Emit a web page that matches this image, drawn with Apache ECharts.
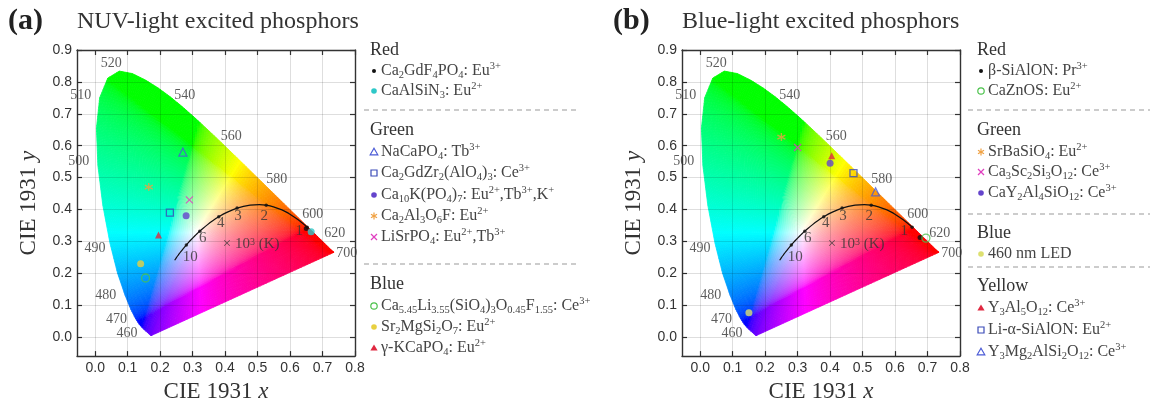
<!DOCTYPE html>
<html><head><meta charset="utf-8">
<script src="https://cdn.jsdelivr.net/npm/echarts@6/dist/echarts.min.js"></script>
<style>html,body{margin:0;padding:0;background:#fff}#c{width:1153px;height:408px}</style>
</head><body><div id="c"></div>
<script>
// ---------- CIE 1931 spectral locus (nm, x, y) ----------
const wl = [380,385,390,395,400,405,410,415,420,425,430,435,440,445,450,455,460,465,470,475,480,485,490,495,500,505,510,515,520,525,530,535,540,545,550,555,560,565,570,575,580,585,590,595,600,605,610,615,620,625,630,635,640,645,650,655,660,665,670,675,680,685,690,695,700];
const locX = [0.1741,0.1740,0.1738,0.1736,0.1733,0.1730,0.1726,0.1721,0.1714,0.1703,0.1689,0.1669,0.1644,0.1611,0.1566,0.1510,0.1440,0.1355,0.1241,0.1096,0.0913,0.0687,0.0454,0.0235,0.0082,0.0039,0.0139,0.0389,0.0743,0.1142,0.1547,0.1929,0.2296,0.2658,0.3016,0.3373,0.3731,0.4087,0.4441,0.4788,0.5125,0.5448,0.5752,0.6029,0.6270,0.6482,0.6658,0.6801,0.6915,0.7006,0.7079,0.7140,0.7190,0.7230,0.7260,0.7283,0.7300,0.7311,0.7320,0.7327,0.7334,0.7340,0.7344,0.7346,0.7347];
const locY = [0.0050,0.0050,0.0049,0.0049,0.0048,0.0048,0.0048,0.0048,0.0051,0.0058,0.0069,0.0086,0.0109,0.0138,0.0177,0.0227,0.0297,0.0399,0.0578,0.0868,0.1327,0.2007,0.2950,0.4127,0.5384,0.6548,0.7502,0.8120,0.8338,0.8262,0.8059,0.7816,0.7543,0.7243,0.6923,0.6589,0.6245,0.5896,0.5547,0.5202,0.4866,0.4544,0.4242,0.3965,0.3725,0.3514,0.3340,0.3197,0.3083,0.2993,0.2920,0.2859,0.2809,0.2770,0.2740,0.2717,0.2700,0.2689,0.2680,0.2673,0.2666,0.2660,0.2656,0.2654,0.2653];
const wlLabels = [460,470,480,490,500,510,520,540,560,580,600,620,700];

// ---------- Planckian locus ----------
const plT = [1000,1200,1400,1500,1600,1800,2000,2200,2500,3000,3500,4000,4500,5000,5500,6000,6500,7000,8000,9000,10000,12000,15000,20000,30000,50000];
const plX = [0.6528,0.6251,0.5985,0.5857,0.5732,0.5492,0.5267,0.5056,0.4770,0.4369,0.4053,0.3805,0.3608,0.3451,0.3325,0.3221,0.3135,0.3064,0.2952,0.2869,0.2807,0.2719,0.2637,0.2565,0.2501,0.2447];
const plY = [0.3444,0.3674,0.3858,0.3931,0.3993,0.4082,0.4133,0.4152,0.4137,0.4041,0.3907,0.3768,0.3636,0.3516,0.3411,0.3318,0.3237,0.3166,0.3048,0.2956,0.2884,0.2776,0.2675,0.2577,0.2489,0.2407];
const plMarkT = [10000,6000,4000,3000,2000,1000];
const plMarkText = ['10','6','4','3','2','1'];
const cctUnitText = '× 10{sp|3} (K)';
const cctUnitPos = [0.48, 0.29];

// ---------- tick labels ----------
const xTicks = [0,0.1,0.2,0.3,0.4,0.5,0.6,0.7,0.8];
const yTicks = [0,0.1,0.2,0.3,0.4,0.5,0.6,0.7,0.8,0.9];

// ---------- panel (a): NUV-light excited phosphors ----------
const namesA = ['Ca_{2}GdF_{4}PO_{4}: Eu^{3+}','CaAlSiN_{3}: Eu^{2+}','NaCaPO_{4}: Tb^{3+}','Ca_{2}GdZr_{2}(AlO_{4})_{3}: Ce^{3+}','Ca_{10}K(PO_{4})_{7}: Eu^{2+},Tb^{3+},K^{+}','Ca_{2}Al_{3}O_{6}F: Eu^{2+}','LiSrPO_{4}: Eu^{2+},Tb^{3+}','Ca_{5.45}Li_{3.55}(SiO_{4})_{3}O_{0.45}F_{1.55}: Ce^{3+}','Sr_{2}MgSi_{2}O_{7}: Eu^{2+}','γ-KCaPO_{4}: Eu^{2+}'];
const groupsA = ['Red','Red','Green','Green','Green','Green','Green','Blue','Blue','Blue'];
const xA = [0.650,0.665,0.270,0.230,0.280,0.165,0.290,0.155,0.140,0.195];
const yA = [0.340,0.330,0.580,0.390,0.380,0.470,0.430,0.185,0.230,0.320];

// ---------- panel (b): Blue-light excited phosphors ----------
const namesB = ['β-SiAlON: Pr^{3+}','CaZnOS: Eu^{2+}','SrBaSiO_{4}: Eu^{2+}','Ca_{3}Sc_{2}Si_{3}O_{12}: Ce^{3+}','CaY_{2}Al_{4}SiO_{12}: Ce^{3+}','460 nm LED','Y_{3}Al_{5}O_{12}: Ce^{3+}','Li-α-SiAlON: Eu^{2+}','Y_{3}Mg_{2}AlSi_{2}O_{12}: Ce^{3+}'];
const groupsB = ['Red','Red','Green','Green','Green','Blue','Yellow','Yellow','Yellow'];
const xB = [0.677,0.695,0.250,0.300,0.400,0.150,0.405,0.472,0.540];
const yB = [0.312,0.310,0.627,0.594,0.545,0.076,0.568,0.514,0.455];

// ---------- styles (kept apart from the data) ----------
const symA = ['dot','circle','openTri','openSq','circle','star','cross','openCircle','circle','tri'];
const colA = ['#111111','#2ec8c8','#4b5bd6','#3b4bb8','#6444cc','#f0a040','#e040c0','#4cc24c','#e8d040','#e02840'];
const symB = ['dot','openCircle','star','cross','circle','circle','tri','openSq','openTri'];
const colB = ['#111111','#4cc24c','#f0a040','#e040c0','#6444cc','#dde070','#e02840','#3b4bb8','#4b5bd6'];
const wlLabelOffset = [[-15,6],[-19,1],[-19,1],[-15,5],[-19,-4],[-19,-2],[-8,-8],[15,-1],[15,-2],[15,-2],[14,-4],[15,-5],[13,1]];
const plLabelOffset = [[4,12],[3,7],[2,6],[1,8],[-2,11],[-8,4]];
const legendYA = [50,71,91,110,130,152,173,195,216,237,264,284,306,327,348];
const legendYB = [50,71,91,110,130,152,172,193,214,233,254,267,286,308,330,352];

const SERIF = '"Liberation Serif","Times New Roman",serif';
const SANS = '"Liberation Sans",Arial,sans-serif';
const TXT = '#333';
const X_MIN = -0.056, X_MAX = 0.8, Y_MIN = -0.06, Y_MAX = 0.9;
const grids = [{left:77, top:50, width:278, height:312}, {left:682, top:50, width:278, height:312}];

// ---------- colour of a chromaticity point ----------
function xyColor(p){
  const x = p[0], y = Math.max(p[1], 1e-4);
  const X = x / y, Z = (1 - x - y) / y;
  let r = 3.2406*X - 1.5372 - 0.4986*Z, g = -0.9689*X + 1.8758 + 0.0415*Z, b = 0.0557*X - 0.2040 + 1.0570*Z;
  r = Math.max(r,0); g = Math.max(g,0); b = Math.max(b,0);
  const m = Math.max(r,g,b) || 1;
  const f = v => { v /= m; v = v <= 0.0031308 ? 12.92*v : 1.055*Math.pow(v,1/2.4) - 0.055; return Math.round(255*Math.min(1,Math.max(0,v))); };
  return 'rgb(' + f(r) + ',' + f(g) + ',' + f(b) + ')';
}

// ---------- tessellate the horseshoe into a fan of small cells ----------
function buildFan(){
  const C = [0.3127, 0.329];
  const n = locX.length, bnd = [];
  for (let i = 0; i < n; i++){
    const a = [locX[i], locY[i]], b = [locX[(i+1)%n], locY[(i+1)%n]];
    const L = Math.hypot(b[0]-a[0], b[1]-a[1]);
    const m = Math.max(1, Math.ceil(L / 0.01));
    for (let j = 0; j < m; j++) bnd.push([a[0]+(b[0]-a[0])*j/m, a[1]+(b[1]-a[1])*j/m]);
  }
  const R = 44, segs = [];
  const P = (Q,t) => [C[0]+(Q[0]-C[0])*t, C[1]+(Q[1]-C[1])*t];
  for (let k = 0; k < bnd.length; k++){
    const A = bnd[k], B = bnd[(k+1)%bnd.length];
    const M = [(A[0]+B[0])/2, (A[1]+B[1])/2];
    const cells = [];
    for (let r = 0; r < R; r++){
      const t0 = r/R, t1 = (r+1)/R, tm = (t0+t1)/2;
      cells.push({p: r === 0 ? [C, P(B,t1), P(A,t1)] : [P(A,t0), P(B,t0), P(B,t1), P(A,t1)], c: xyColor(P(M,tm))});
    }
    segs.push({mid: M, cells});
  }
  return segs;
}
const fan = buildFan();

// ---------- rich text helper ----------
function richText(s){
  let out = '', buf = '', i = 0;
  const flush = () => { if (buf){ out += '{n|' + buf + '}'; buf = ''; } };
  while (i < s.length){
    if ((s[i] === '_' || s[i] === '^') && s[i+1] === '{'){
      flush();
      const j = s.indexOf('}', i);
      out += '{' + (s[i] === '_' ? 'sb' : 'sp') + '|' + s.slice(i+2, j) + '}';
      i = j + 1;
    } else { buf += s[i]; i++; }
  }
  flush();
  return out;
}
const LEG = '#444';
const legendRich = {
  n: {fontFamily: SERIF, fontSize: 16, lineHeight: 20, fill: LEG},
  sb: {fontFamily: SERIF, fontSize: 10.5, lineHeight: 10, verticalAlign: 'bottom', fill: LEG},
  sp: {fontFamily: SERIF, fontSize: 10.5, lineHeight: 10, verticalAlign: 'top', fill: LEG}
};

const SYM = {
  dot: {symbol:'circle', size:5, fill:true},
  circle: {symbol:'circle', size:7, fill:true},
  openCircle: {symbol:'circle', size:8, fill:false},
  tri: {symbol:'triangle', size:7, fill:true},
  openTri: {symbol:'triangle', size:8, fill:false},
  openSq: {symbol:'rect', size:7, fill:false},
  cross: {symbol:'path://M0,0L10,10M0,10L10,0', size:7, fill:false},
  star: {symbol:'path://M5,0L5,10M0.67,2.5L9.33,7.5M0.67,7.5L9.33,2.5', size:8, fill:false}
};

// ---------- axes ----------
const xAxis = [], yAxis = [];
const nameStyle = {fontFamily:SERIF, fontSize:23, color:TXT, rich:{i:{fontFamily:SERIF, fontSize:23, fontStyle:'italic', color:TXT}}};
grids.forEach((g, p) => {
  const common = {type:'value', gridIndex:p, min:X_MIN, max:X_MAX,
    axisLine:{show:true, onZero:false, lineStyle:{color:'#333', width:1.4}},
    axisTick:{show:true, inside:true, length:5, customValues:xTicks, lineStyle:{color:'#333', width:1.2}}};
  xAxis.push(Object.assign({}, common, {position:'bottom', z:0, splitLine:{show:false},
    axisLabel:{show:true, customValues:xTicks, formatter:v => v.toFixed(1), fontFamily:SANS, fontSize:14, color:TXT, margin:5},
    name:'CIE 1931 {i|x}', nameLocation:'middle', nameGap:20, nameTextStyle:nameStyle}));
  xAxis.push(Object.assign({}, common, {position:'top', z:3, axisLabel:{show:false},
    splitLine:{show:true, lineStyle:{color:'rgba(0,0,0,0.13)', width:1}}}));
  const cy = {type:'value', gridIndex:p, min:Y_MIN, max:Y_MAX,
    axisLine:{show:true, onZero:false, lineStyle:{color:'#333', width:1.4}},
    axisTick:{show:true, inside:true, length:5, customValues:yTicks, lineStyle:{color:'#333', width:1.2}}};
  yAxis.push(Object.assign({}, cy, {position:'left', z:0, splitLine:{show:false},
    axisLabel:{show:true, customValues:yTicks, formatter:v => v.toFixed(1), fontFamily:SANS, fontSize:14, color:TXT, margin:5},
    name:'CIE 1931 {i|y}', nameLocation:'middle', nameGap:37, nameRotate:90, nameTextStyle:nameStyle}));
  yAxis.push(Object.assign({}, cy, {position:'right', z:3, axisLabel:{show:false},
    splitLine:{show:true, lineStyle:{color:'rgba(0,0,0,0.13)', width:1}}}));
});

// ---------- series ----------
const series = [];
function panel(p, names, xs, ys, syms, cols){
  const xi = 2*p, yi = 2*p;
  series.push({type:'custom', xAxisIndex:xi, yAxisIndex:yi, z:1, silent:true, animation:false, clip:false,
    encode:{x:0, y:1}, data: fan.map(s => s.mid),
    renderItem: (params, api) => {
      const s = fan[params.dataIndex];
      return {type:'group', children: s.cells.map(c => ({type:'polygon', shape:{points:c.p.map(q => api.coord(q))},
        style:{fill:c.c, stroke:c.c, lineWidth:0.8}}))};
    }});
  series.push({type:'line', xAxisIndex:xi, yAxisIndex:yi, z:4, silent:true, smooth:0.2, symbol:'none',
    data: plX.map((x,i) => [x, plY[i]]), lineStyle:{color:'#111', width:1.2}});
  series.push({type:'scatter', xAxisIndex:xi, yAxisIndex:yi, z:4, silent:true, symbolSize:3.5,
    itemStyle:{color:'#111'},
    data: plMarkT.map(t => { const k = plT.indexOf(t); return [plX[k], plY[k]]; })});
  series.push({type:'scatter', xAxisIndex:xi, yAxisIndex:yi, z:6, silent:true, symbolSize:1,
    itemStyle:{color:'transparent'},
    label:{show:true, position:'inside', fontFamily:SERIF, fontSize:15, color:TXT},
    data: plMarkT.map((t,i) => { const k = plT.indexOf(t);
      return {value:[plX[k], plY[k]], label:{formatter:plMarkText[i], offset:plLabelOffset[i]}}; })});
  series.push({type:'scatter', xAxisIndex:xi, yAxisIndex:yi, z:6, silent:true, symbolSize:1,
    itemStyle:{color:'transparent'},
    label:{show:true, position:'inside', formatter:cctUnitText, fontFamily:SERIF, fontSize:15, color:TXT,
      rich:{sp:{fontFamily:SERIF, fontSize:10, verticalAlign:'top', lineHeight:10, color:TXT}}},
    data:[cctUnitPos]});
  series.push({type:'scatter', xAxisIndex:xi, yAxisIndex:yi, z:6, silent:true, symbolSize:1,
    itemStyle:{color:'transparent'},
    label:{show:true, position:'inside', fontFamily:SERIF, fontSize:14, color:TXT},
    data: wlLabels.map((w,i) => { const k = wl.indexOf(w);
      return {value:[locX[k], locY[k]], label:{formatter:String(w), offset:wlLabelOffset[i]}}; })});
  names.forEach((nm, i) => {
    const s = SYM[syms[i]];
    series.push({type:'scatter', name:nm, xAxisIndex:xi, yAxisIndex:yi, z:7, silent:true,
      symbol:s.symbol, symbolSize:s.size,
      itemStyle: s.fill ? {color:cols[i]} : {color:'transparent', borderColor:cols[i], borderWidth:1.3},
      data:[[xs[i], ys[i]]]});
  });
}
panel(0, namesA, xA, yA, symA, colA);
panel(1, namesB, xB, yB, symB, colB);

// ---------- legends & titles (graphic) ----------
function marker(kind, c, cx, cy){
  const st = {stroke:c, lineWidth:1.2, fill:'none'};
  switch(kind){
    case 'dot': return [{type:'circle', shape:{cx, cy, r:2}, style:{fill:c}}];
    case 'circle': return [{type:'circle', shape:{cx, cy, r:2.8}, style:{fill:c}}];
    case 'openCircle': return [{type:'circle', shape:{cx, cy, r:3.2}, style:st}];
    case 'tri': return [{type:'polygon', shape:{points:[[cx,cy-3.6],[cx+3.6,cy+2.6],[cx-3.6,cy+2.6]]}, style:{fill:c}}];
    case 'openTri': return [{type:'polygon', shape:{points:[[cx,cy-3.8],[cx+3.8,cy+2.8],[cx-3.8,cy+2.8]]}, style:st}];
    case 'openSq': return [{type:'rect', shape:{x:cx-3, y:cy-3, width:6, height:6}, style:st}];
    case 'cross': return [{type:'line', shape:{x1:cx-3,y1:cy-3,x2:cx+3,y2:cy+3}, style:st},{type:'line', shape:{x1:cx-3,y1:cy+3,x2:cx+3,y2:cy-3}, style:st}];
    case 'star': return [{type:'line', shape:{x1:cx,y1:cy-3.5,x2:cx,y2:cy+3.5}, style:st},
      {type:'line', shape:{x1:cx-3,y1:cy-1.8,x2:cx+3,y2:cy+1.8}, style:st},{type:'line', shape:{x1:cx-3,y1:cy+1.8,x2:cx+3,y2:cy-1.8}, style:st}];
  }
  return [];
}
const graphic = [];
function legend(names, groups, syms, cols, ys, x0, dashX0, dashX1){
  let k = 0, prev = null;
  names.forEach((nm, i) => {
    if (groups[i] !== prev){
      if (prev !== null){
        graphic.push({type:'line', shape:{x1:dashX0, y1:ys[k], x2:dashX1, y2:ys[k]}, style:{stroke:'#999', lineWidth:1, lineDash:[5,4]}});
        k++;
      }
      graphic.push({type:'text', x:x0, y:ys[k], style:{text:groups[i], font:'18px ' + SERIF, fill:'#333', align:'left', verticalAlign:'middle', textAlign:'left', textVerticalAlign:'middle'}});
      k++; prev = groups[i];
    }
    marker(syms[i], cols[i], x0 + 4, ys[k]).forEach(m => graphic.push(m));
    graphic.push({type:'text', x:x0 + 11, y:ys[k], style:{text:richText(nm), rich:legendRich, font:'16px ' + SERIF, fill:LEG, align:'left', verticalAlign:'middle', textAlign:'left', textVerticalAlign:'middle'}});
    k++;
  });
}
legend(namesA, groupsA, symA, colA, legendYA, 370, 364, 578);
legend(namesB, groupsB, symB, colB, legendYB, 977, 968, 1150);

function title(xTag, xText, tag, text){
  graphic.push({type:'text', x:xTag, y:21, style:{text:tag, font:'bold 30px ' + SERIF, fill:'#222', align:'left', verticalAlign:'middle', textAlign:'left', textVerticalAlign:'middle'}});
  graphic.push({type:'text', x:xText, y:22, style:{text:text, font:'24px ' + SERIF, fill:'#333', align:'left', verticalAlign:'middle', textAlign:'left', textVerticalAlign:'middle'}});
}
title(8, 77, '(a)', 'NUV-light excited phosphors');
title(613, 682, '(b)', 'Blue-light excited phosphors');

const chart = echarts.init(document.getElementById('c'), null, {renderer:'canvas'});
chart.setOption({animation:false, backgroundColor:'#fff', grid:grids, xAxis, yAxis, series, graphic});
</script>
</body></html>
